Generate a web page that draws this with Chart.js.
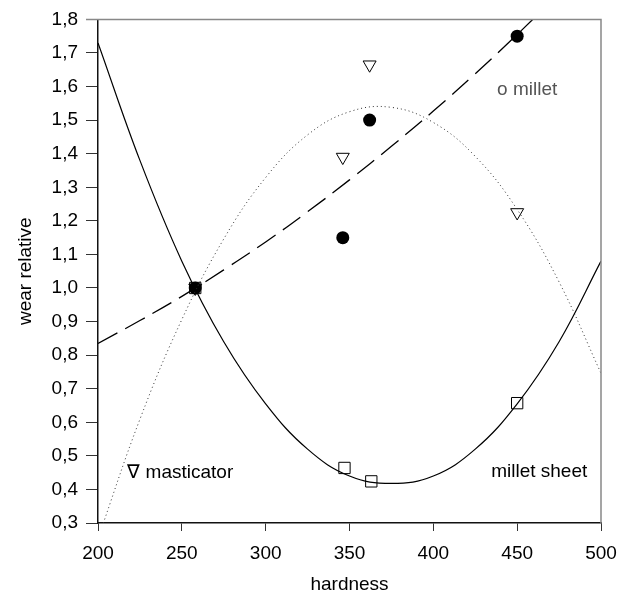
<!DOCTYPE html>
<html>
<head>
<meta charset="utf-8">
<script src="https://cdn.jsdelivr.net/npm/chart.js@4"></script>
<style>
  html, body { margin: 0; padding: 0; background: #fff; }
  #wrap { width: 628px; height: 596px; position: relative; }
</style>
</head>
<body>
<div id="wrap"><canvas id="wear-chart" width="628" height="596"></canvas></div>
<script>
// measured points (hardness, relative wear)
const milletX = [258, 346, 362, 450];
const milletY = [1.0, 1.15, 1.50, 1.75];
const masticatorX = [258, 346, 362, 450];
const masticatorY = [1.0, 1.39, 1.665, 1.225];
const sheetX = [258, 347, 363, 450];
const sheetY = [1.0, 0.464, 0.424, 0.657];

// fitted curves
const curveX = [200, 225, 250, 275, 300, 325, 350, 375, 400, 425, 450, 475, 500];
const sheetCurve = [1.73, 1.38, 1.08, 0.84, 0.655, 0.52, 0.44, 0.418, 0.44, 0.52, 0.655, 0.84, 1.08];
const milletCurve = [0.835, 0.903, 0.975, 1.054, 1.137, 1.227, 1.322, 1.422, 1.527, 1.638, 1.755, 1.877, 2.0];
const masticatorCurve = [0.254, 0.609, 0.906, 1.146, 1.329, 1.456, 1.525, 1.538, 1.493, 1.392, 1.234, 1.018, 0.746];

const xTicks = [200, 250, 300, 350, 400, 450, 500];
const yTicks = [0.3, 0.4, 0.5, 0.6, 0.7, 0.8, 0.9, 1.0, 1.1, 1.2, 1.3, 1.4, 1.5, 1.6, 1.7, 1.8];

// in-plot labels (data units)
const notes = [
  { text: 'o millet', x: 438, y: 1.59, color: '#555' },
  { text: '\u2207 masticator', x: 217.5, y: 0.45, color: '#000' },
  { text: 'millet sheet', x: 434.5, y: 0.453, color: '#000' }
];

const toXY = (xs, ys) => xs.map((x, i) => ({ x: x, y: ys[i] }));
const FONT = 'Liberation Sans, Arial, sans-serif';
const FS = 19;

const frame = {
  id: 'frame',
  afterDatasetsDraw(chart) {
    const { ctx, chartArea: a } = chart;
    ctx.save();
    ctx.strokeStyle = '#888';
    ctx.lineWidth = 1.5;
    ctx.beginPath();
    ctx.moveTo(a.left - 12, a.top);
    ctx.lineTo(a.right, a.top);
    ctx.lineTo(a.right, a.bottom);
    ctx.stroke();
    ctx.restore();
  },
  afterDraw(chart) {
    const { ctx, scales } = chart;
    ctx.save();
    ctx.font = FS + 'px ' + FONT;
    ctx.textBaseline = 'middle';
    notes.forEach(n => {
      ctx.fillStyle = n.color;
      ctx.fillText(n.text, scales.x.getPixelForValue(n.x), scales.y.getPixelForValue(n.y));
    });
    ctx.restore();
  }
};

const ctx = document.getElementById('wear-chart').getContext('2d');
const chart = new Chart(ctx, {
  type: 'scatter',
  data: {
    datasets: [
      {
        label: 'millet sheet fit',
        data: toXY(curveX, sheetCurve),
        showLine: true,
        borderColor: '#000',
        borderWidth: 1.2,
        pointRadius: 0,
        tension: 0.4
      },
      {
        label: 'millet fit',
        data: toXY(curveX, milletCurve),
        showLine: true,
        borderColor: '#000',
        borderWidth: 1.3,
        borderDash: [22, 9],
        pointRadius: 0,
        tension: 0.4
      },
      {
        label: 'masticator fit',
        data: toXY(curveX, masticatorCurve),
        showLine: true,
        borderColor: '#333',
        borderWidth: 1,
        borderDash: [1, 3],
        pointRadius: 0,
        tension: 0.4
      },
      {
        label: 'millet sheet',
        data: toXY(sheetX, sheetY),
        pointStyle: 'rect',
        pointRadius: 8,
        backgroundColor: 'rgba(255,255,255,0)',
        borderColor: '#000',
        borderWidth: 1
      },
      {
        label: 'masticator',
        data: toXY(masticatorX, masticatorY),
        pointStyle: 'triangle',
        rotation: 180,
        pointRadius: 7.5,
        backgroundColor: 'rgba(255,255,255,0)',
        borderColor: '#000',
        borderWidth: 1
      },
      {
        label: 'millet',
        data: toXY(milletX, milletY),
        pointStyle: 'circle',
        pointRadius: 6.5,
        backgroundColor: '#000',
        borderColor: '#000',
        borderWidth: 0
      }
    ]
  },
  options: {
    responsive: false,
    animation: false,
    layout: { padding: { top: 17, right: 27, left: 0, bottom: 0 } },
    plugins: {
      legend: { display: false },
      tooltip: { enabled: false }
    },
    scales: {
      x: {
        type: 'linear',
        min: 200,
        max: 500,
        afterBuildTicks: (scale) => { scale.ticks = xTicks.map(v => ({ value: v })); },
        afterFit: (scale) => { scale.height = 73; },
        border: { display: true, color: '#111', width: 1.5 },
        grid: { drawOnChartArea: false, tickLength: 8, tickColor: '#333', tickWidth: 1 },
        ticks: { color: '#000', font: { family: FONT, size: FS }, padding: 11, maxRotation: 0 },
        title: { display: true, text: 'hardness', color: '#000', font: { family: FONT, size: FS }, padding: { top: 0, bottom: 0 } }
      },
      y: {
        type: 'linear',
        min: 0.3,
        max: 1.8,
        afterBuildTicks: (scale) => { scale.ticks = yTicks.map(v => ({ value: v })); },
        afterFit: (scale) => { scale.width = 98; },
        border: { display: true, color: '#111', width: 1.5 },
        grid: { drawOnChartArea: false, tickLength: 12, tickColor: '#333', tickWidth: 1 },
        ticks: {
          color: '#000',
          font: { family: FONT, size: FS },
          padding: 8,
          callback: (v) => v.toFixed(1).replace('.', ',')
        },
        title: { display: true, text: 'wear relative', color: '#000', font: { family: FONT, size: FS }, padding: { top: 14, bottom: 14 } }
      }
    }
  },
  plugins: [frame]
});
</script>
</body>
</html>
